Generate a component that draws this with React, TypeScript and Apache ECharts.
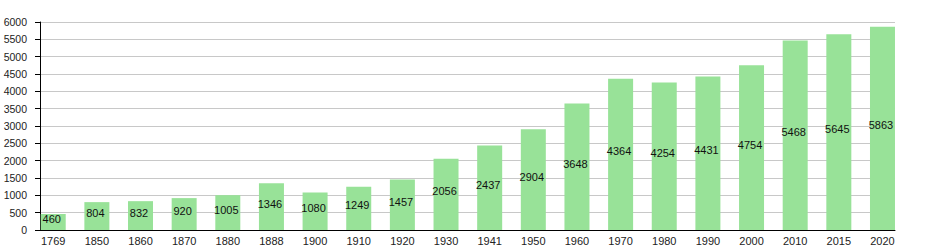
import React, { useEffect, useRef } from "react";
import * as echarts from "echarts";

const years = ["1769", "1850", "1860", "1870", "1880", "1888", "1900", "1910", "1920", "1930", "1941", "1950", "1960", "1970", "1980", "1990", "2000", "2010", "2015", "2020"];
const population = [460, 804, 832, 920, 1005, 1346, 1080, 1249, 1457, 2056, 2437, 2904, 3648, 4364, 4254, 4431, 4754, 5468, 5645, 5863];
const yMax = 6000;
const yStep = 500;

const FONT = "'Liberation Sans', Arial, sans-serif";

export default function App() {
  const ref = useRef<HTMLDivElement>(null);
  useEffect(() => {
    if (!ref.current) return;
    const chart = echarts.init(ref.current, undefined, { renderer: "svg" });
    chart.setOption({
      animation: false,
      textStyle: { fontFamily: FONT },
      grid: [
        { left: 40, right: 34, top: 22, bottom: 20, containLabel: false, outerBoundsMode: "none" },
        { left: 31.4, right: 24.7, top: 22, bottom: 20, containLabel: false, outerBoundsMode: "none" },
      ],
      xAxis: [
        {
          type: "category",
          gridIndex: 0,
          data: years,
          axisLine: { show: true, lineStyle: { color: "#000", width: 1 } },
          axisTick: { show: false },
          axisLabel: { show: false },
          splitLine: { show: false },
        },
        {
          type: "category",
          gridIndex: 1,
          data: years,
          axisLine: { show: false },
          axisTick: { show: false },
          axisLabel: { show: true, color: "#222", fontSize: 11, fontFamily: FONT, margin: 5, interval: 0 },
          splitLine: { show: false },
        },
      ],
      yAxis: [
        {
          type: "value",
          gridIndex: 0,
          min: 0,
          max: yMax,
          interval: yStep,
          axisLine: { show: true, lineStyle: { color: "#000", width: 1 } },
          axisTick: { show: true, length: 5, lineStyle: { color: "#000" } },
          axisLabel: { color: "#222", fontSize: 10.5, fontFamily: FONT, margin: 13, formatter: (v: number) => String(v) },
          splitLine: { show: true, lineStyle: { color: "#c8c8c8", width: 1 } },
        },
        {
          type: "value",
          gridIndex: 1,
          min: 0,
          max: yMax,
          interval: yStep,
          show: false,
          splitLine: { show: false },
        },
      ],
      series: [
        {
          type: "bar",
          xAxisIndex: 1,
          yAxisIndex: 1,
          data: population,
          barWidth: 25,
          itemStyle: { color: "#98e298" },
          label: {
            show: true,
            position: "inside",
            offset: [-1.5, -3],
            color: "#111",
            fontSize: 11,
            fontFamily: FONT,
          },
        },
      ],
    });
    return () => chart.dispose();
  }, []);
  return <div ref={ref} style={{ position: "absolute", left: 0, top: 0, width: 929, height: 250 }} />;
}
